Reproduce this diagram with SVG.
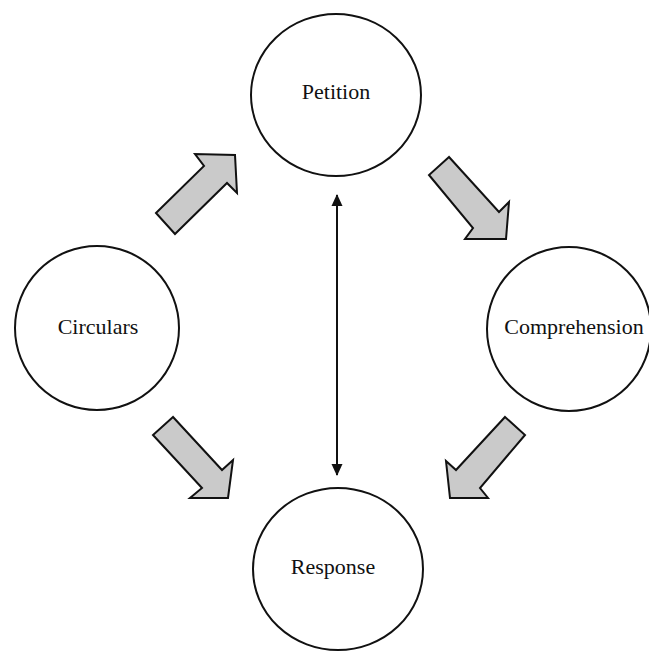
<svg xmlns="http://www.w3.org/2000/svg" width="649" height="652" viewBox="0 0 649 652">
<defs>
<style>
.node ellipse{fill:#fff;stroke:#111;stroke-width:2}
.node text{font-family:"Liberation Serif","Times New Roman",serif;font-size:22px;fill:#111;text-anchor:middle}
.block{fill:#cacaca;stroke:#111;stroke-width:2;stroke-linejoin:miter}
.line{stroke:#111;stroke-width:2;fill:none}
</style>
<marker id="ah" viewBox="0 0 12 12" refX="11" refY="6" markerWidth="12" markerHeight="12" markerUnits="userSpaceOnUse" orient="auto-start-reverse">
<path d="M0,0.5 L12,6 L0,11.5 Z" fill="#111"/>
</marker>
</defs>
<rect width="649" height="652" fill="#fff"/>
<g id="connectors">
<polygon class="block" points="156,213 204,166 195,154 235,155 237,193 227,183 175,234"/>
<polygon class="block" points="449,157 429,175 473,228 465,239 506,239 509,202 499,212"/>
<polygon class="block" points="173,417 153,435 202,488 190,498 228,498 233,460 222,470"/>
<polygon class="block" points="505,417 525,435 480,488 488,498 450,498 446,461 456,470"/>
<line class="line" x1="337" y1="195" x2="337" y2="475" marker-start="url(#ah)" marker-end="url(#ah)"/>
</g>
<g id="petition" class="node">
<ellipse cx="336" cy="95" rx="85" ry="81"/>
<text x="336" y="99">Petition</text>
</g>
<g id="circulars" class="node">
<ellipse cx="97" cy="328" rx="82" ry="82"/>
<text x="98" y="334">Circulars</text>
</g>
<g id="comprehension" class="node">
<ellipse cx="569" cy="329" rx="82" ry="82"/>
<text x="574" y="334">Comprehension</text>
</g>
<g id="response" class="node">
<ellipse cx="338" cy="569" rx="85" ry="81"/>
<text x="333" y="574">Response</text>
</g>
</svg>
